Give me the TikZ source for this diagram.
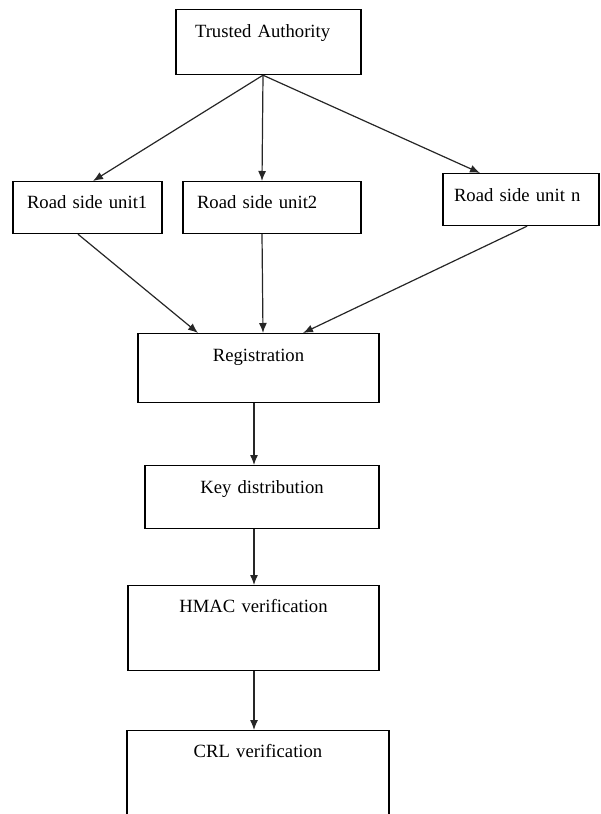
\documentclass[tikz,border=0pt]{standalone}
\usepackage{fontspec}
\setmainfont{Liberation Serif}
\usepackage{tikz}
\usetikzlibrary{positioning}
\usetikzlibrary{calc}
\usetikzlibrary{arrows.meta}

\begin{document}
\begin{tikzpicture}
  [
    x=0.75pt, y=-0.75pt,
    box/.style={
      draw=black,
      line width=0.9pt,
      anchor=north,
      inner ysep=0pt,
      inner xsep=0pt,
      align=center,
      font=\fontsize{14}{16}\selectfont
    },
    unit/.style={box, align=left},
    link/.style={draw=black!85, line width=0.9pt, -{Latex[length=7.5pt,width=6pt]}}
  ]
  \useasboundingbox (0,0) rectangle (600,814);
  \clip (0,0) rectangle (600,814);

  \node (ta) at (268.5,9) [unit, text width=110.25pt, inner xsep=14.25pt,
        text height=21pt, text depth=27.75pt] {Trusted Authority};

  \node (rsu1) at (87.5,181) [unit, text width=90.75pt, inner xsep=10.5pt,
        text height=20.25pt, text depth=18.75pt] {Road side unit1};
  \node (rsu2) at (272,181) [unit, text width=112.5pt, inner xsep=10.5pt,
        text height=20.25pt, text depth=18.75pt] {Road side unit2};
  \node (rsun) at (521,173) [unit, text width=100.5pt, inner xsep=8.25pt,
        text height=21pt, text depth=18pt] {Road side unit n};

  \node (reg) at (258.5,333) [box, text width=180.75pt,
        text height=21pt, text depth=30.75pt] {Registration};
  \node (key) at (262,465) [box, text width=175.5pt,
        text height=21pt, text depth=26.25pt] {Key distribution};
  \node (hmac) at (253.5,585) [box, text width=188.25pt,
        text height=20.25pt, text depth=43.5pt] {HMAC verification};
  \node (crl) at (258,730) [box, text width=196.5pt,
        text height=20.25pt, text depth=75pt] {CRL verification};

  \draw [link] ($(ta.south)+(-5.5,0)$) -- ($(rsu1.north)+(5.5,0)$);
  \draw [link] ($(ta.south)+(-5.5,0)$) -- ($(rsu2.north)+(-10,0)$);
  \draw [link] ($(ta.south)+(-5.5,0)$) -- ($(rsun.north)+(-41,0)$);

  \draw [link] ($(rsu1.south)+(-9.5,0)$) -- ($(reg.north)+(-60.5,0)$);
  \draw [link] ($(rsu2.south)+(-10,0)$) -- ($(reg.north)+(4.5,0)$);
  \draw [link] ($(rsun.south)+(6,0)$) -- ($(reg.north)+(44.5,0)$);

  \draw [link] ($(reg.south)+(-4.5,0)$) -- ($(key.north)+(-8,0)$);
  \draw [link] ($(key.south)+(-8,0)$) -- ($(hmac.north)+(0.5,0)$);
  \draw [link] ($(hmac.south)+(0.5,0)$) -- ($(crl.north)+(-4,0)$);

\end{tikzpicture}
\end{document}
